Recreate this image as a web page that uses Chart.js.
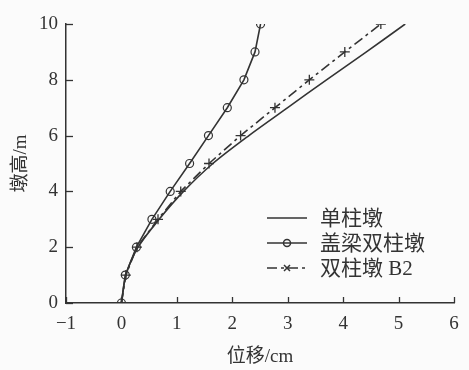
<!DOCTYPE html>
<html>
<head>
<meta charset="utf-8">
<script src="https://cdn.jsdelivr.net/npm/chart.js@4/dist/chart.umd.min.js"></script>
<style>
html,body{margin:0;padding:0;background:#fbfbfb;}
#wrap{width:469px;height:370px;}
</style>
</head>
<body>
<div id="wrap"><canvas id="c" width="469" height="370"></canvas></div>
<script>
const heights = [0,1,2,3,4,5,6,7,8,9,10];
const singlePier = [0,0.08,0.30,0.68,1.12,1.65,2.30,3.00,3.70,4.42,5.12];
const cappedDouble = [0,0.07,0.27,0.55,0.88,1.23,1.57,1.91,2.21,2.41,2.51];
const doubleB2 = [0,0.08,0.28,0.66,1.07,1.58,2.15,2.77,3.39,4.03,4.68];
const xTicks = [-1,0,1,2,3,4,5,6];
const yTicks = [0,2,4,6,8,10];
const seriesNames = ['单柱墩','盖梁双柱墩','双柱墩 B2'];
const xTitle = '位移/cm';
const yTitle = '墩高/m';

const ink = '#333333';
const serif = "'Liberation Serif','Noto Sans CJK SC',serif";
const cjk = "'Liberation Serif','Noto Sans CJK SC',sans-serif";

function pts(xs){ return xs.map((x,i)=>({x:x,y:heights[i]})); }

const tickPlugin = {
  id:'inwardTicks',
  afterDraw(chart){
    const ctx = chart.ctx;
    const xs = chart.scales.x, ys = chart.scales.y;
    ctx.save();
    ctx.strokeStyle = ink; ctx.lineWidth = 1.3;
    xs.ticks.forEach(t=>{
      const px = Math.round(xs.getPixelForValue(t.value))+0.5;
      ctx.beginPath(); ctx.moveTo(px, xs.top); ctx.lineTo(px, xs.top-6); ctx.stroke();
    });
    ys.ticks.forEach(t=>{
      const py = Math.round(ys.getPixelForValue(t.value))+0.5;
      ctx.beginPath(); ctx.moveTo(ys.right, py); ctx.lineTo(ys.right+7, py); ctx.stroke();
    });
    ctx.restore();
  }
};

const legendPlugin = {
  id:'innerLegend',
  afterDraw(chart){
    const ctx = chart.ctx;
    const x0 = 267, x1 = 307, tx = 320;
    const rows = [218,243,268];
    ctx.save();
    ctx.font = "21px " + cjk;
    ctx.textBaseline = 'middle';
    chart.data.datasets.forEach((ds,i)=>{
      const y = rows[i];
      ctx.strokeStyle = ink; ctx.lineWidth = 1.5;
      ctx.setLineDash(ds.borderDash || []);
      ctx.beginPath(); ctx.moveTo(x0,y); ctx.lineTo(x1,y); ctx.stroke();
      ctx.setLineDash([]);
      const cx = (x0+x1)/2;
      if (i===1){
        ctx.beginPath(); ctx.arc(cx,y,3.5,0,Math.PI*2); ctx.stroke();
      } else if (i===2){
        ctx.beginPath();
        ctx.moveTo(cx-3,y-3); ctx.lineTo(cx+3,y+3);
        ctx.moveTo(cx+3,y-3); ctx.lineTo(cx-3,y+3);
        ctx.stroke();
      }
      ctx.fillStyle = ink;
      ctx.fillText(ds.label, tx, y+1);
    });
    ctx.restore();
  }
};

new Chart(document.getElementById('c'), {
  type:'scatter',
  data:{
    datasets:[
      {label:seriesNames[0], data:pts(singlePier), showLine:true, borderColor:ink, borderWidth:1.6, pointRadius:0, tension:0.3},
      {label:seriesNames[1], data:pts(cappedDouble), showLine:true, borderColor:ink, borderWidth:1.6, pointStyle:'circle', pointRadius:4, pointBorderWidth:1.2, pointBorderColor:ink, pointBackgroundColor:'rgba(0,0,0,0)', tension:0},
      {label:seriesNames[2], data:pts(doubleB2), showLine:true, borderColor:ink, borderWidth:1.6, borderDash:[10,4,3,4], pointStyle:'cross', pointRadius:5, pointBorderWidth:1.3, pointBorderColor:ink, tension:0}
    ]
  },
  options:{
    responsive:false,
    animation:false,
    devicePixelRatio:1,
    layout:{padding:{top:24,right:15,left:0,bottom:0}},
    plugins:{legend:{display:false}, tooltip:{enabled:false}},
    scales:{
      x:{
        type:'linear', min:-1, max:6,
        afterBuildTicks(s){ s.ticks = xTicks.map(v=>({value:v})); },
        afterFit(s){ s.height = 67; },
        grid:{display:true, drawOnChartArea:false, drawTicks:false},
        border:{display:true, color:ink, width:1.5},
        ticks:{color:ink, padding:10, font:{family:serif, size:19}, callback:v=> v<0 ? '\u2212'+Math.abs(v) : String(v)},
        title:{display:true, text:xTitle, color:ink, font:{family:cjk, size:19}, padding:{top:0,bottom:2}}
      },
      y:{
        type:'linear', min:0, max:10,
        afterBuildTicks(s){ s.ticks = yTicks.map(v=>({value:v})); },
        afterFit(s){ s.width = 66; },
        grid:{display:true, drawOnChartArea:false, drawTicks:false},
        border:{display:true, color:ink, width:1.5},
        ticks:{color:ink, padding:8, font:{family:serif, size:19}},
        title:{display:true, text:yTitle, color:ink, font:{family:cjk, size:19}, padding:{top:10,bottom:0}}
      }
    }
  },
  plugins:[tickPlugin, legendPlugin]
});
</script>
</body>
</html>
